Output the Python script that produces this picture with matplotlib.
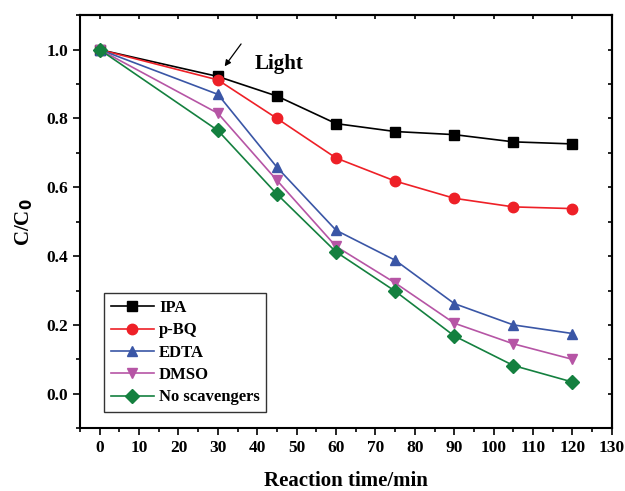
import numpy as np
from matplotlib import pyplot as plt
from matplotlib.ticker import MultipleLocator

time_min = [0, 30, 45, 60, 75, 90, 105, 120]
ipa = [1.0, 0.922, 0.865, 0.785, 0.762, 0.753, 0.732, 0.726]
pbq = [1.0, 0.912, 0.800, 0.685, 0.618, 0.568, 0.543, 0.538]
edta = [1.0, 0.870, 0.658, 0.475, 0.388, 0.262, 0.200, 0.175]
dmso = [1.0, 0.815, 0.620, 0.428, 0.322, 0.205, 0.145, 0.100]
none = [1.0, 0.765, 0.580, 0.412, 0.298, 0.168, 0.082, 0.034]

labels = ["IPA", "p-BQ", "EDTA", "DMSO", "No scavengers"]
colors = ["#000000", "#ee2027", "#3a56a6", "#b655a5", "#14803f"]
markers = ["s", "o", "^", "v", "D"]

plt.rcParams['font.family'] = ['Liberation Serif', 'DejaVu Serif']
plt.rcParams['font.weight'] = 'bold'

fig = plt.figure(figsize=(6.25, 4.91), dpi=100)
ax = fig.add_axes([0.128, 0.128, 0.851, 0.841])

for series, lab, c, m in zip([ipa, pbq, edta, dmso, none], labels, colors, markers):
    ms = 7.5 if m != "D" else 7
    ax.plot(time_min, series, color=c, marker=m, markersize=ms, lw=1.2, label=lab)

ax.set_xlim(-5, 130)
ax.set_ylim(-0.1, 1.1)
ax.xaxis.set_major_locator(MultipleLocator(10))
ax.xaxis.set_minor_locator(MultipleLocator(5))
ax.yaxis.set_major_locator(MultipleLocator(0.2))
ax.yaxis.set_minor_locator(MultipleLocator(0.1))
ax.tick_params(which='both', direction='out', top=False, right=False, labelsize=12.5, width=1.2)
ax.tick_params(which='major', length=5)
ax.tick_params(which='minor', length=3)
ax.set_xticks(np.arange(0, 131, 10))
ax.set_yticks(np.arange(0, 1.01, 0.2))
ax.set_yticklabels([f"{v:.1f}" for v in np.arange(0, 1.01, 0.2)])

# inward ticks on top and right
sec_x = ax.secondary_xaxis('top')
sec_x.xaxis.set_major_locator(MultipleLocator(10))
sec_x.tick_params(direction='in', length=3, labeltop=False, width=1.2)
sec_y = ax.secondary_yaxis('right')
sec_y.yaxis.set_major_locator(MultipleLocator(0.1))
sec_y.tick_params(direction='in', length=3, labelright=False, width=1.2)
for s in list(ax.spines.values()):
    s.set_linewidth(1.5)
sec_x.spines['top'].set_linewidth(1.5)
sec_y.spines['right'].set_linewidth(1.5)

ax.set_xlabel("Reaction time/min", fontsize=15, fontweight='bold', labelpad=11)
ax.set_ylabel("C/C$_\\mathbf{0}$", fontsize=15, fontweight='bold', labelpad=8)

ax.annotate("", xy=(31.3, 0.945), xytext=(36.3, 1.023),
            arrowprops=dict(arrowstyle="-|>", color="black", lw=0.9, mutation_scale=9))
ax.text(45.5, 0.958, "Light", fontsize=15, fontweight='bold', ha='center', va='center')

leg = ax.legend(loc='lower left', bbox_to_anchor=(0.045, 0.039), frameon=True, fancybox=False,
                edgecolor='black', fontsize=12, handlelength=2.6, labelspacing=0.38,
                borderaxespad=0, handletextpad=0.3, borderpad=0.4)
leg.get_frame().set_linewidth(1.0)

fig.savefig("out.png", dpi=100)
